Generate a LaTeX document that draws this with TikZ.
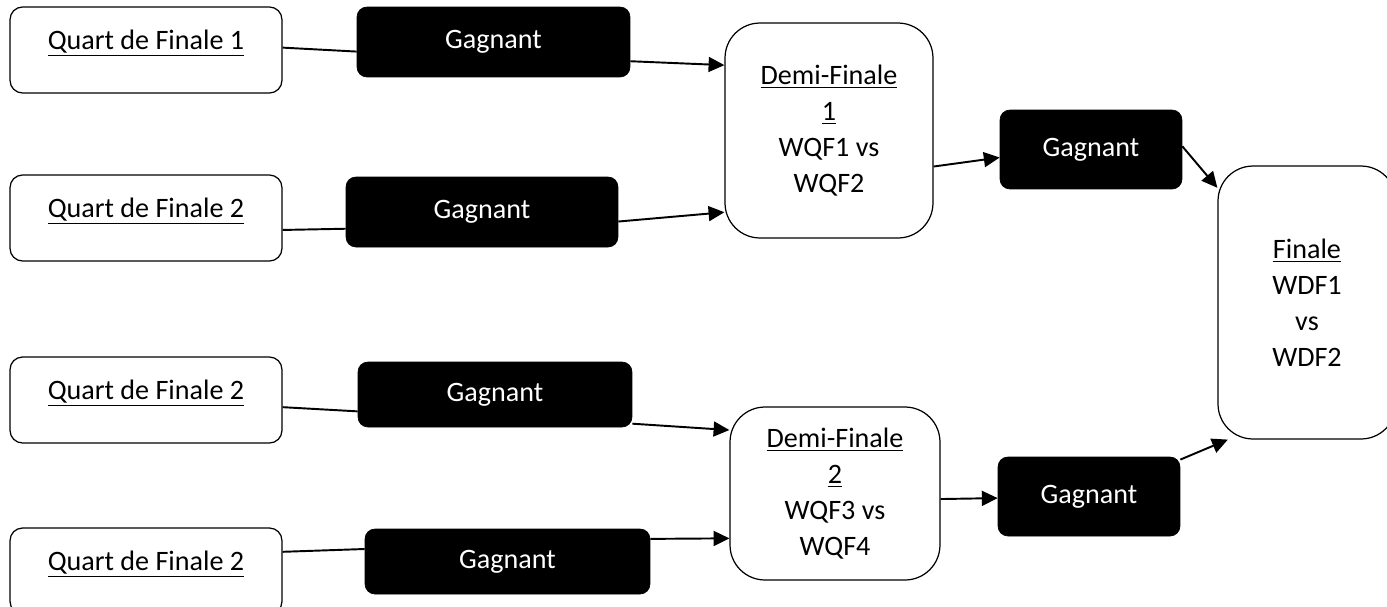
\documentclass[tikz,border=0pt]{standalone}
\usepackage{fontspec}
\setmainfont{Carlito}
\usetikzlibrary{arrows.meta}

\begin{document}
\begin{tikzpicture}[x=0.02cm,y=-0.02cm]
		\tikzstyle{quart} = [draw, rounded corners=0.25cm, line width=0.7pt, minimum width=5.44cm, inner sep=0, text height=0.84cm, text depth=0.88cm, font=\fontsize{16}{20.5}\selectfont]
		\tikzstyle{winner} = [draw, fill=black, text=white, rounded corners=0.2cm, inner sep=0, font=\fontsize{16}{20.5}\selectfont]
		\tikzstyle{match} = [draw, rounded corners=0.7cm, line width=0.7pt, align=center, inner sep=0, font=\fontsize{16}{20.5}\selectfont]
		\tikzstyle{joinline} = [line width=1.1pt]
		\tikzstyle{joinarrow} = [line width=1.1pt, -{Triangle[length=9pt,width=8.5pt]}]
		\useasboundingbox (0,0) rectangle (1387,606);
		\clip (0,0) rectangle (1387,606);
		% quarts de finale
		\node [quart] (qf1) at (146,50) {\underline{Quart de Finale 1}};
		\node [quart] (qf2) at (146,218) {\underline{Quart de Finale 2}};
		\node [quart] (qf3) at (146,400) {\underline{Quart de Finale 2}};
		\node [quart] (qf4) at (146,571) {\underline{Quart de Finale 2}};
		% gagnants
		\node [winner, minimum width=5.46cm, minimum height=1.4cm] (g1) at (493.5,42) {Gagnant};
		\node [winner, minimum width=5.44cm, minimum height=1.4cm] (g2) at (482,212) {Gagnant};
		\node [winner, minimum width=5.48cm, minimum height=1.3cm] (g4) at (495,394.5) {Gagnant};
		\node [winner, minimum width=5.7cm, minimum height=1.3cm] (g5) at (507.5,561.5) {Gagnant};
		\node [winner, minimum width=3.64cm, minimum height=1.58cm] (g3) at (1091,149.5) {Gagnant};
		\node [winner, minimum width=3.64cm, minimum height=1.58cm] (g6) at (1089,496.5) {Gagnant};
		% demi-finales et finale
		\node [match, minimum width=4.16cm, minimum height=4.3cm] (df1) at (829,130.5) {\underline{Demi-Finale}\\\underline{1}\\WQF1 vs\\WQF2};
		\node [match, minimum width=4.2cm, minimum height=3.46cm] (df2) at (835,493.5) {\underline{Demi-Finale}\\\underline{2}\\WQF3 vs\\WQF4};
		\node [match, minimum width=3.56cm, minimum height=5.46cm] (fin) at (1307,302.5) {\underline{Finale}\\WDF1\\vs\\WDF2};
		% liens
		\draw [joinline] (qf1.1) -- (g1.184);
		\draw [joinarrow] (g1.-8) -- (df1.148);
		\draw [joinline] (qf2.-5) -- (g2.187);
		\draw [joinarrow] (g2.-4) -- (df1.218);
		\draw [joinline] (qf3.-3) -- (g4.187);
		\draw [joinarrow] (g4.-12) -- (df2.149);
		\draw [joinline] (qf4.8) -- (g5.175);
		\draw [joinarrow] (g5.9) -- (df2.203);
		\draw [joinarrow] (df1.-19) -- (g3.185);
		\draw [joinarrow] (df2.-3) -- (g6.181);
		\draw [joinarrow] (g3.2) -- (fin.128);
		\draw [joinarrow] (g6.22) -- (fin.240);
\end{tikzpicture}
\end{document}
